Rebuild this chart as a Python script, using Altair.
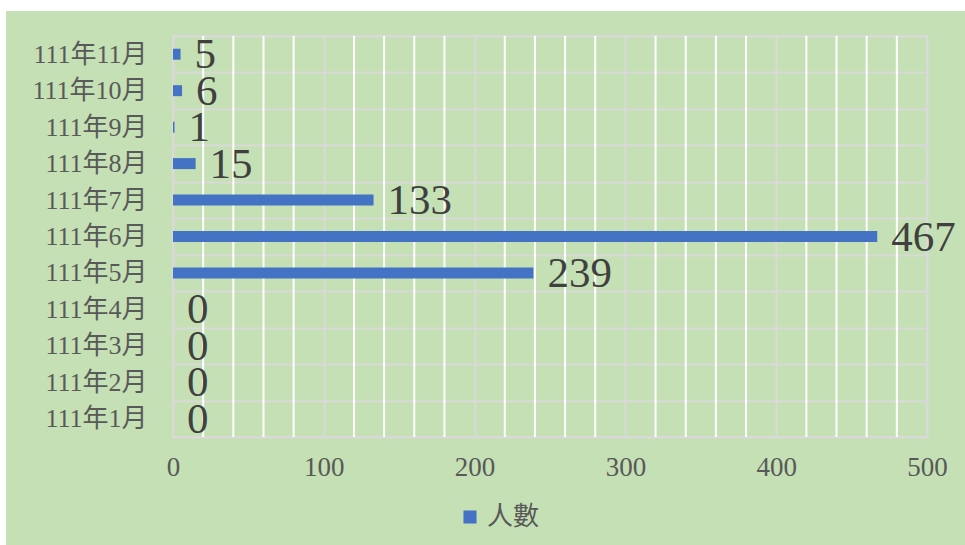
import altair as alt
import pandas as pd

months = ["111年11月", "111年10月", "111年9月", "111年8月", "111年7月", "111年6月",
          "111年5月", "111年4月", "111年3月", "111年2月", "111年1月"]
counts = [5, 6, 1, 15, 133, 467, 239, 0, 0, 0, 0]
series_name = "人數"
major_ticks = [0, 100, 200, 300, 400, 500]
minor_ticks = [v for v in range(20, 500, 20) if v % 100 != 0]

df = pd.DataFrame({"month": months, "count": counts, "series": [series_name] * len(months)})
minor_df = pd.DataFrame({"v": minor_ticks})

FONT = "Liberation Serif, Noto Sans CJK TC"
GREEN = "#c5e0b4"

y_enc = alt.Y("month:N", sort=months, title=None,
              scale=alt.Scale(paddingInner=0, paddingOuter=0),
              axis=alt.Axis(tickBand="extent", grid=True, gridColor="#d9d9d9", gridWidth=2,
                            ticks=False, domain=False, labelFont=FONT, labelFontSize=26,
                            labelColor="#595959", labelPadding=26))
x_enc = alt.X("count:Q", title=None, scale=alt.Scale(domain=[0, 500], nice=False),
              axis=alt.Axis(values=major_ticks, grid=True, gridColor="#d9d9d9",
                            gridWidth=2, ticks=False, domain=False, labelOverlap=False,
                            labelFlush=False,
                            labelFont=FONT, labelFontSize=27, labelColor="#595959",
                            labelPadding=17))

minor_grid = alt.Chart(minor_df).mark_rule(color="#ffffff", strokeWidth=2).encode(
    x=alt.X("v:Q", scale=alt.Scale(domain=[0, 500], nice=False)),
    y=alt.value(0), y2=alt.value(401)
)

base = alt.Chart(df)

bars = base.mark_bar(size=11).encode(
    y=y_enc, x=x_enc,
    color=alt.Color("series:N", title=None,
                    scale=alt.Scale(range=["#4472c4"]),
                    legend=alt.Legend(orient="none", legendX=284, legendY=468,
                                      symbolType="square", symbolSize=170,
                                      labelFont=FONT, labelFontSize=26, labelColor="#595959",
                                      symbolStrokeWidth=0))
)

labels = base.mark_text(align="left", baseline="middle", dx=14, dy=1, font=FONT,
                        fontSize=43, color="#404040").encode(
    y=alt.Y("month:N", sort=months), x="count:Q", text="count:Q"
)

top_strip = base.mark_rect(color="white").encode(
    x=alt.value(-173), x2=alt.value(792), y=alt.value(-36), y2=alt.value(-25))
left_strip = base.mark_rect(color="white").encode(
    x=alt.value(-173), x2=alt.value(-167), y=alt.value(-36), y2=alt.value(509))

chart = alt.layer(minor_grid, bars, labels, top_strip, left_strip).properties(
    width=754, height=401,
    autosize=alt.AutoSizeParams(type="none"),
    padding={"left": 173, "top": 36, "right": 38, "bottom": 108},
    background=GREEN,
).configure_view(stroke="#d9d9d9", strokeWidth=2)

chart.save("out.html", embed_options={"renderer": "svg", "actions": False})
